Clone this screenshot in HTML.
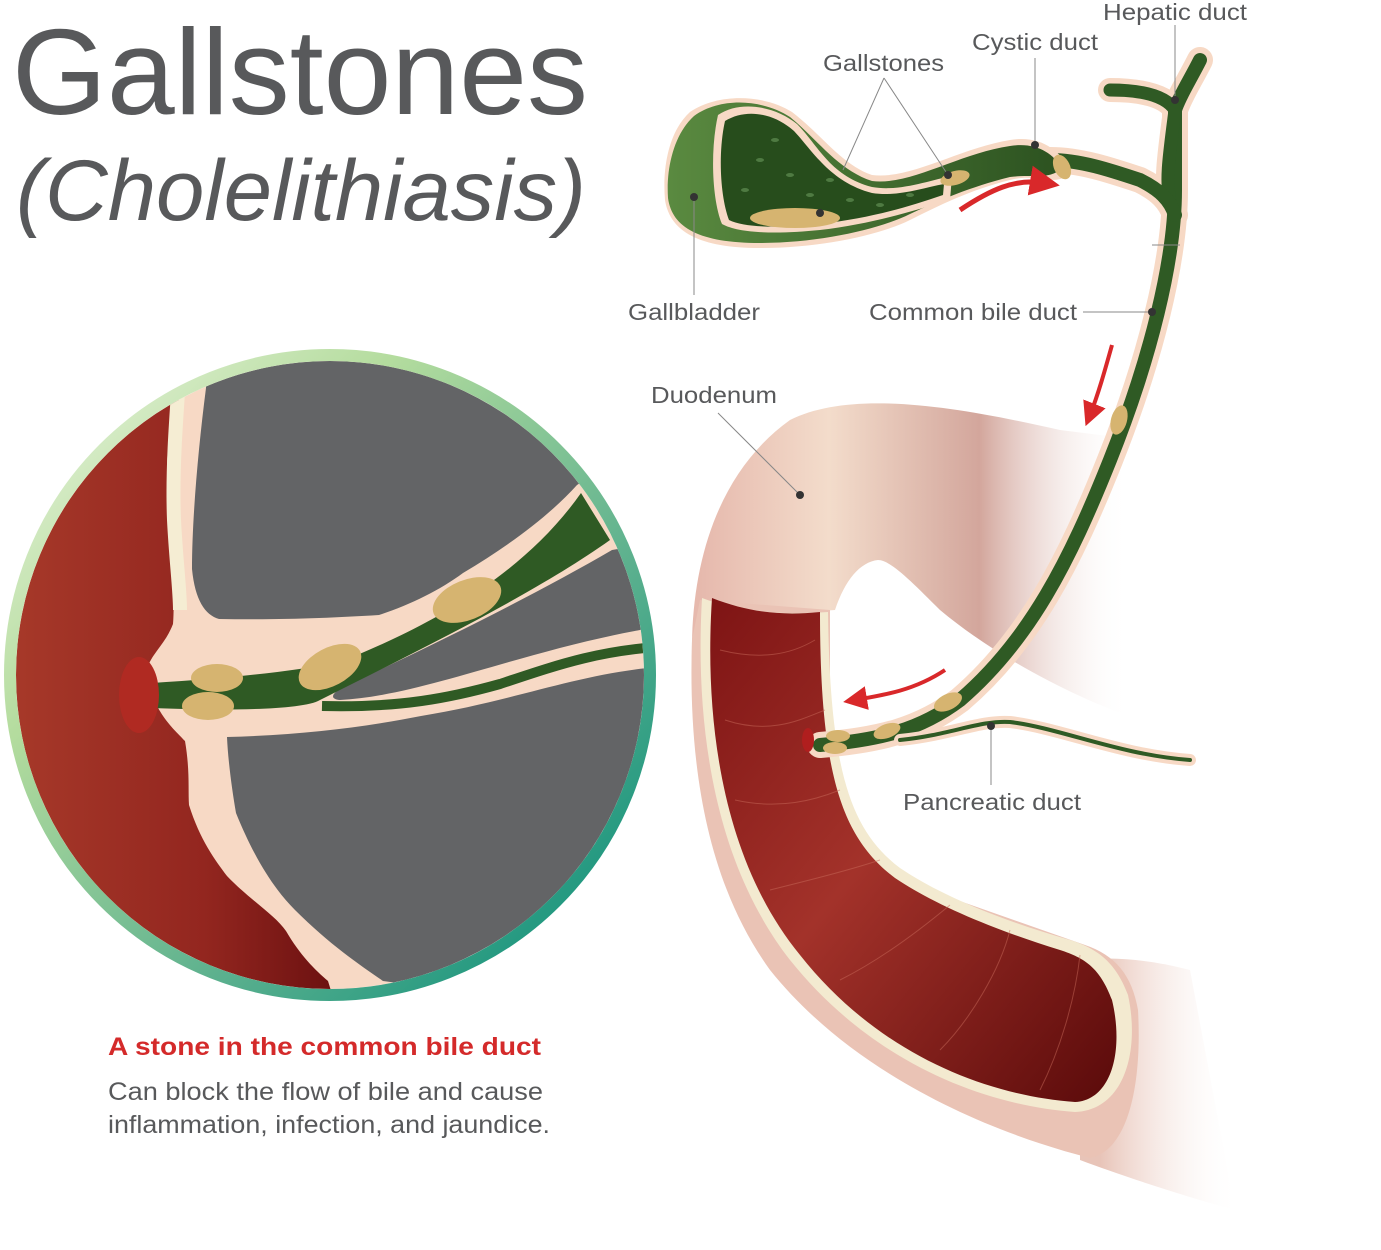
<!DOCTYPE html>
<html><head><meta charset="utf-8"><style>
html,body{margin:0;padding:0;background:#fff;}
svg{display:block;font-family:"Liberation Sans",sans-serif;}
</style></head><body>
<svg width="1381" height="1250" viewBox="0 0 1381 1250" xmlns="http://www.w3.org/2000/svg">
<defs>
<linearGradient id="ring" x1="0" y1="0" x2="1" y2="1">
<stop offset="0" stop-color="#eef6e2"/><stop offset="0.3" stop-color="#b4dc9e"/><stop offset="0.65" stop-color="#5bb08e"/><stop offset="1" stop-color="#008a78"/></linearGradient>
<linearGradient id="red" x1="0" y1="0" x2="1" y2="0">
<stop offset="0" stop-color="#a83a2a"/><stop offset="0.6" stop-color="#93261f"/><stop offset="1" stop-color="#6a1010"/></linearGradient>
<linearGradient id="duo" x1="0" y1="0" x2="1" y2="1">
<stop offset="0" stop-color="#7e1414"/><stop offset="0.45" stop-color="#a3322a"/><stop offset="1" stop-color="#5a0a0a"/></linearGradient>
<linearGradient id="skinU" gradientUnits="userSpaceOnUse" x1="700" y1="0" x2="1130" y2="0">
<stop offset="0" stop-color="#e6b9ad"/><stop offset="0.3" stop-color="#f3dccb"/><stop offset="0.65" stop-color="#d3a69c"/><stop offset="1" stop-color="#ffffff" stop-opacity="0"/></linearGradient>
<linearGradient id="skinL" gradientUnits="userSpaceOnUse" x1="1100" y1="0" x2="1240" y2="0">
<stop offset="0" stop-color="#e8c4b8"/><stop offset="1" stop-color="#ffffff" stop-opacity="0"/></linearGradient>
<linearGradient id="gb" x1="0" y1="0" x2="1" y2="0">
<stop offset="0" stop-color="#5a8a40"/><stop offset="1" stop-color="#2c5220"/></linearGradient>
<clipPath id="cc"><circle cx="330" cy="675" r="314"/></clipPath>
<marker id="ar" markerWidth="6" markerHeight="6" refX="3" refY="3" orient="auto"><path d="M0,0 L6,3 L0,6z" fill="#d9282a"/></marker>
</defs>

<text x="12" y="114" font-size="122" fill="#58595b" textLength="576" lengthAdjust="spacingAndGlyphs">Gallstones</text>
<text x="16" y="220" font-size="86" font-style="italic" fill="#58595b" textLength="570" lengthAdjust="spacingAndGlyphs">(Cholelithiasis)</text>

<!-- circle -->
<g clip-path="url(#cc)">
<rect x="0" y="340" width="670" height="680" fill="#f7d9c5"/>
<path d="M0,340 L179,340 L179,400 C170,430 165,460 168,476 C172,550 175,600 173,624 C165,645 150,655 147,670 C150,710 175,730 185,741 C190,770 188,790 189,805 C200,840 215,860 227,876 C250,900 275,915 286,931 C300,955 315,970 328,981 L340,1020 L0,1020z" fill="url(#red)"/>
<path d="M181,350 C176,420 172,470 174,520 C176,560 180,590 180,610" stroke="#f5edd3" stroke-width="14" fill="none"/>
<path d="M206,340 L206,388 C198,450 192,520 192,569 C195,600 205,615 219,619 C280,620 330,618 379,615 C410,605 440,590 463,573 C510,545 550,515 577,485 L600,470 L670,400 L670,340Z" fill="#636466"/>
<path d="M612,550 C540,592 440,642 345,686 C330,694 330,699 340,700 C420,696 520,652 640,630 L670,625 L670,540Z" fill="#636466"/>
<path d="M227,737 C228,760 232,790 236,813 C255,860 275,890 295,910 C330,945 360,965 383,981 L670,1020 L670,666 C580,672 520,700 421,716 C360,728 300,735 227,737Z" fill="#636466"/>
<path d="M152,683 C230,678 290,672 340,662 C420,630 520,580 581,493 L610,540 C540,590 430,645 330,695 L320,700 C300,712 200,710 152,708 Z" fill="#2f5a24"/>
<path d="M322,706 C400,708 450,698 500,684 C560,664 600,650 670,646" stroke="#2f5a24" stroke-width="10" fill="none"/>
<ellipse cx="139" cy="695" rx="20" ry="38" fill="#b02a22"/>
<ellipse cx="217" cy="678" rx="26" ry="14" fill="#d6b470"/>
<ellipse cx="208" cy="706" rx="26" ry="14" fill="#d6b470"/>
<ellipse cx="330" cy="667" rx="34" ry="19" fill="#d6b470" transform="rotate(-28 330 667)"/>
<ellipse cx="467" cy="600" rx="36" ry="20" fill="#d6b470" transform="rotate(-22 467 600)"/>
</g>
<circle cx="330" cy="675" r="320" fill="none" stroke="url(#ring)" stroke-width="12"/>

<text x="108" y="1055" font-size="25" font-weight="bold" fill="#d42a2a" textLength="433" lengthAdjust="spacingAndGlyphs">A stone in the common bile duct</text>
<text x="108" y="1100" font-size="25" fill="#58595b" textLength="435" lengthAdjust="spacingAndGlyphs">Can block the flow of bile and cause</text>
<text x="108" y="1133" font-size="25" fill="#58595b" textLength="442" lengthAdjust="spacingAndGlyphs">inflammation, infection, and jaundice.</text>

<!-- duodenum -->
<path d="M692,660 C690,560 720,470 790,420 C850,390 950,405 1060,430 L1140,440 L1140,720 C1080,700 1000,660 940,610 C910,580 890,560 878,560 C860,562 845,580 835,610 L700,620Z" fill="url(#skinU)"/>
<path d="M1080,960 C1130,955 1170,965 1190,970 L1235,1210 C1180,1195 1120,1175 1080,1160Z" fill="url(#skinL)"/>
<path d="M692,640 C688,760 705,880 770,970 C850,1070 980,1130 1090,1158 C1130,1150 1142,1080 1138,1010 C1132,975 1115,955 1085,945 L900,880 C860,850 835,790 830,720 L830,610 L700,600Z" fill="#eac3b5"/>
<path d="M702,598 C695,720 712,860 790,960 C870,1060 980,1105 1075,1112 C1125,1110 1140,1050 1128,995 C1115,960 1095,948 1070,940 C1000,920 940,895 900,868 C850,830 830,770 828,612 C780,615 740,612 702,598z" fill="#f3ead0"/>
<path d="M712,598 C704,720 722,860 800,955 C875,1050 980,1095 1075,1102 C1112,1100 1124,1050 1112,1000 C1100,968 1085,958 1060,950 C995,930 935,905 895,878 C842,838 820,775 820,612 C780,616 748,612 712,598z" fill="url(#duo)"/>
<g stroke="#c86a5a" stroke-width="1" fill="none" opacity="0.5">
<path d="M720,650 C760,660 790,655 815,640"/><path d="M725,720 C770,735 800,720 825,710"/><path d="M735,800 C780,810 815,800 840,790"/>
<path d="M770,890 C810,880 850,870 880,860"/><path d="M840,980 C880,960 920,930 950,905"/><path d="M940,1050 C970,1020 1000,970 1010,930"/><path d="M1040,1090 C1060,1050 1075,1000 1080,955"/>
</g>

<!-- common bile duct -->
<g fill="none" stroke-linecap="round" stroke-linejoin="round">
<path d="M1200,60 C1190,80 1180,95 1175,110 L1175,190 C1175,260 1150,360 1110,460 C1070,560 1030,640 960,700 C920,730 880,740 820,745" stroke="#f7d9c5" stroke-width="26"/>
<path d="M1110,90 C1140,90 1165,95 1175,110 C1170,150 1165,180 1170,200" stroke="#f7d9c5" stroke-width="24"/>
<path d="M1050,160 C1080,160 1110,170 1140,180 C1160,190 1170,200 1175,215" stroke="#f7d9c5" stroke-width="26"/>
<path d="M1200,60 C1190,80 1180,95 1175,110 L1175,190 C1175,260 1150,360 1110,460 C1070,560 1030,640 960,700 C920,730 880,740 820,745" stroke="#2f5a24" stroke-width="14"/>
<path d="M1110,90 C1140,90 1165,95 1175,110 C1170,150 1165,180 1170,200" stroke="#2f5a24" stroke-width="13"/>
<path d="M1050,160 C1080,160 1110,170 1140,180 C1160,190 1170,200 1175,215" stroke="#2f5a24" stroke-width="14"/>
<path d="M900,740 C950,735 980,720 1010,722 C1060,728 1120,755 1190,760" stroke="#f7d9c5" stroke-width="12"/>
<path d="M900,740 C950,735 980,720 1010,722 C1060,728 1120,755 1190,760" stroke="#2f5a24" stroke-width="4"/>
</g>
<ellipse cx="808" cy="740" rx="6" ry="12" fill="#b01e1e"/>
<ellipse cx="838" cy="736" rx="12" ry="6" fill="#d6b470"/>
<ellipse cx="835" cy="748" rx="12" ry="6" fill="#d6b470"/>
<ellipse cx="887" cy="731" rx="14" ry="7" fill="#d6b470" transform="rotate(-20 887 731)"/>
<ellipse cx="948" cy="702" rx="15" ry="8" fill="#d6b470" transform="rotate(-25 948 702)"/>
<ellipse cx="1119" cy="420" rx="8" ry="15" fill="#d6b470" transform="rotate(15 1119 420)"/>

<!-- gallbladder -->
<path d="M690,112 C720,92 765,95 792,112 C822,135 842,165 872,175 C910,180 960,148 1010,140 C1040,135 1060,150 1070,170 C1060,190 1040,172 1010,180 C970,190 940,205 910,220 C880,235 820,248 760,248 C700,248 670,232 665,200 C662,165 670,130 690,112z" fill="#f7d9c5"/>
<path d="M694,116 C722,96 764,100 790,117 C818,140 838,170 872,181 C910,186 960,153 1010,146 C1035,142 1052,152 1062,168 C1050,180 1035,174 1010,177 C970,187 940,200 910,214 C880,229 820,243 760,243 C700,243 672,228 668,198 C666,168 674,134 694,116z" fill="url(#gb)"/>
<path d="M718,115 C740,100 775,106 797,124 C818,145 830,176 872,187 C900,192 930,180 952,176 L950,200 C910,212 870,224 820,230 C780,234 740,234 722,224 C712,200 710,150 718,115z" fill="#f7d9c5"/>
<path d="M725,121 C746,108 774,113 794,131 C812,150 830,182 872,193 C898,197 922,188 944,184 L943,195 C905,208 870,218 820,224 C780,228 745,228 729,220 C720,196 718,152 725,121z" fill="#274d1c"/>
<g fill="#4f7a42"><ellipse cx="760" cy="160" rx="4" ry="2"/><ellipse cx="790" cy="175" rx="4" ry="2"/><ellipse cx="745" cy="190" rx="4" ry="2"/><ellipse cx="810" cy="195" rx="4" ry="2"/><ellipse cx="850" cy="200" rx="4" ry="2"/><ellipse cx="880" cy="205" rx="4" ry="2"/><ellipse cx="775" cy="140" rx="4" ry="2"/><ellipse cx="830" cy="180" rx="4" ry="2"/><ellipse cx="910" cy="195" rx="4" ry="2"/></g>
<ellipse cx="795" cy="218" rx="45" ry="10" fill="#d6b470"/>
<ellipse cx="955" cy="178" rx="15" ry="7" fill="#d6b470" transform="rotate(-15 955 178)"/>
<ellipse cx="1062" cy="167" rx="8" ry="13" fill="#d6b470" transform="rotate(-25 1062 167)"/>
<path d="M960,210 C990,190 1015,178 1045,183" stroke="#d9282a" stroke-width="5" fill="none" marker-end="url(#ar)"/>
<path d="M1112,345 C1105,370 1098,395 1090,415" stroke="#d9282a" stroke-width="4" fill="none" marker-end="url(#ar)"/>
<path d="M945,670 C915,690 885,695 855,700" stroke="#d9282a" stroke-width="4" fill="none" marker-end="url(#ar)"/>

<!-- labels -->
<g font-size="23" fill="#58595b">
<text x="1103" y="20" textLength="144" lengthAdjust="spacingAndGlyphs">Hepatic duct</text>
<text x="972" y="50" textLength="126" lengthAdjust="spacingAndGlyphs">Cystic duct</text>
<text x="823" y="71" textLength="121" lengthAdjust="spacingAndGlyphs">Gallstones</text>
<text x="628" y="320" textLength="132" lengthAdjust="spacingAndGlyphs">Gallbladder</text>
<text x="869" y="320" textLength="208" lengthAdjust="spacingAndGlyphs">Common bile duct</text>
<text x="651" y="403" textLength="126" lengthAdjust="spacingAndGlyphs">Duodenum</text>
<text x="903" y="810" textLength="178" lengthAdjust="spacingAndGlyphs">Pancreatic duct</text>
</g>
<g stroke="#888" stroke-width="1" fill="none">
<path d="M1175,25 L1175,100"/><path d="M1035,58 L1035,145"/>
<path d="M884,78 L843,170 M884,78 L948,175"/>
<path d="M694,197 L694,295"/><path d="M1083,312 L1152,312"/>
<path d="M718,413 L800,495"/><path d="M991,726 L991,785"/>
<path d="M1152,245 L1180,245"/>
</g>
<g fill="#333">
<circle cx="1175" cy="100" r="4"/><circle cx="1035" cy="145" r="4"/><circle cx="948" cy="175" r="4"/>
<circle cx="820" cy="213" r="4"/><circle cx="694" cy="197" r="4"/><circle cx="1152" cy="312" r="4"/>
<circle cx="800" cy="495" r="4"/><circle cx="991" cy="726" r="4"/>
</g>
</svg>
</body></html>
